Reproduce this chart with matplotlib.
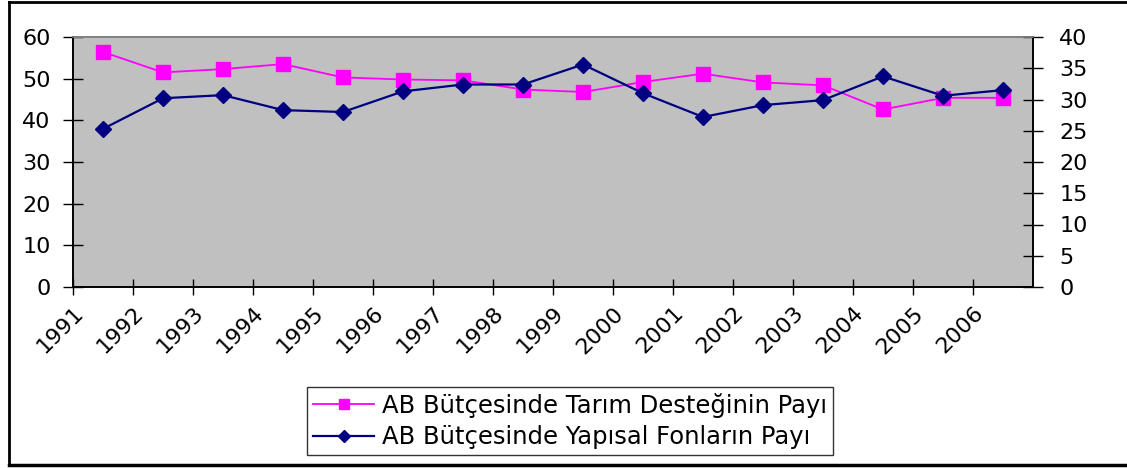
import matplotlib.pyplot as plt
import numpy as np
from matplotlib.lines import Line2D

plt.rcParams['font.family'] = ['DejaVu Sans']

# data
years = ['1991', '1992', '1993', '1994', '1995', '1996', '1997', '1998',
         '1999', '2000', '2001', '2002', '2003', '2004', '2005', '2006']
tarim = [56.4, 51.5, 52.3, 53.5, 50.3, 49.8, 49.6, 47.4,
         46.8, 49.2, 51.2, 49.1, 48.4, 42.6, 45.4, 45.4]      # left axis
yapisal = [25.3, 30.2, 30.7, 28.3, 28.0, 31.3, 32.4, 32.4,
           35.6, 31.0, 27.2, 29.1, 29.9, 33.7, 30.6, 31.5]    # right axis
label_tarim = 'AB Bütçesinde Tarım Desteğinin Payı'
label_yapisal = 'AB Bütçesinde Yapısal Fonların Payı'

W, H = 1127, 468
fig = plt.figure(figsize=(W / 100, H / 100), dpi=100)

# plot area in pixels: x 73..1033, y 37..287
ax = fig.add_axes([73 / W, (H - 287) / H, 960 / W, 250 / H])
ax.set_facecolor('#C0C0C0')
ax2 = ax.twinx()

x = np.arange(len(years)) + 0.5
ax.plot(x, tarim, color='#FF00FF', lw=1.3, marker='s', ms=9.5,
        markeredgecolor='#FF00FF', label=label_tarim, zorder=3)
ax2.plot(x, yapisal, color='#000080', lw=1.6, marker='D', ms=8,
         markeredgecolor='#000080', label=label_yapisal, zorder=3)

ax.set_xlim(0, len(years))
ax.set_ylim(0, 60)
ax2.set_ylim(0, 40)
ax.set_yticks(np.arange(0, 61, 10))
ax2.set_yticks(np.arange(0, 41, 5))
ax.set_xticks(np.arange(len(years)))
ax.set_xticklabels(years, rotation=45, ha='right', va='top',
                   rotation_mode='anchor')

ax.tick_params(axis='y', direction='inout', length=14, width=1,
               labelsize=16, pad=9)
ax2.tick_params(axis='y', direction='inout', length=14, width=1,
                labelsize=16, pad=12)
ax.tick_params(axis='x', direction='inout', length=11, width=1,
               labelsize=16, pad=6)

for a in (ax, ax2):
    a.spines['top'].set_color('#808080')
    a.spines['left'].set_color('black')
    a.spines['bottom'].set_color('black')
    a.spines['right'].set_color('black')
    for s in a.spines.values():
        s.set_linewidth(1.2)

handles = [Line2D([], [], color='#FF00FF', lw=1.3, marker='s', ms=7),
           Line2D([], [], color='#000080', lw=1.6, marker='D', ms=6)]
leg = fig.legend(handles, [label_tarim, label_yapisal],
                 loc='center', bbox_to_anchor=(570 / W, 1 - 421 / H),
                 fontsize=17.5, frameon=True, fancybox=False,
                 edgecolor='black', handlelength=2.5, handletextpad=0.3,
                 borderpad=0.25, labelspacing=0.3, borderaxespad=0)
leg.get_frame().set_linewidth(1)

# outer chart border
fig.add_artist(Line2D([9 / W, 9 / W], [3 / H, 1 - 2 / H], color='black',
                      lw=2, transform=fig.transFigure))
fig.add_artist(Line2D([9 / W, 1], [1 - 2 / H, 1 - 2 / H], color='black',
                      lw=2, transform=fig.transFigure))
fig.add_artist(Line2D([9 / W, 1], [3 / H, 3 / H], color='black',
                      lw=2.5, transform=fig.transFigure))

fig.savefig('out.png', dpi=100)
